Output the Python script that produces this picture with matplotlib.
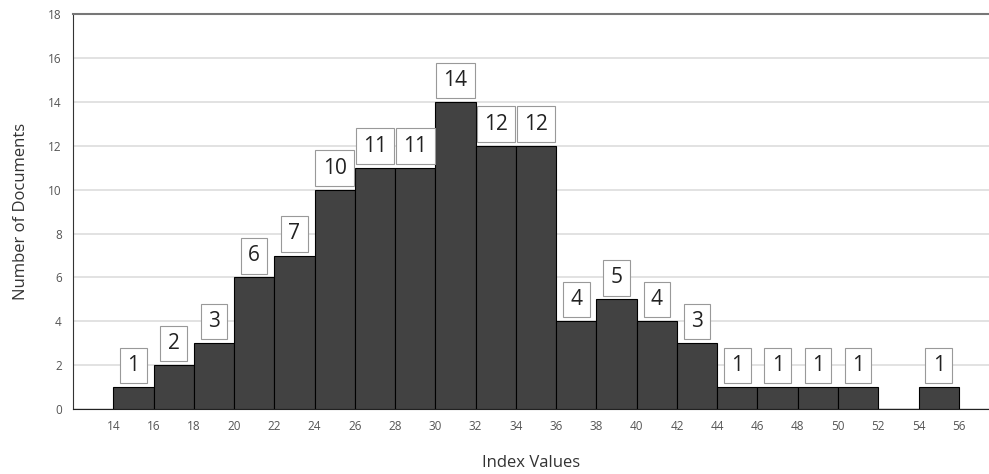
import numpy as np
import matplotlib
matplotlib.use('Agg')
import matplotlib.pyplot as plt

matplotlib.rc('font', family=['Open Sans', 'DejaVu Sans'])

bin_edges = [14, 16, 18, 20, 22, 24, 26, 28, 30, 32, 34, 36, 38, 40, 42, 44, 46, 48, 50, 52, 54, 56]
counts = [1, 2, 3, 6, 7, 10, 11, 11, 14, 12, 12, 4, 5, 4, 3, 1, 1, 1, 1, 0, 1]
y_ticks = [0, 2, 4, 6, 8, 10, 12, 14, 16, 18]

fig = plt.figure(figsize=(9.89, 4.74), dpi=100)
ax = fig.add_axes([0.0738, 0.137, 0.9262, 0.833])

lefts = np.array(bin_edges[:-1])
widths = np.diff(bin_edges)
ax.bar(lefts, counts, width=widths, align='edge', color='#424242',
       edgecolor='black', linewidth=0.8, zorder=3)

for x, w, c in zip(lefts, widths, counts):
    if c == 0:
        continue
    ax.annotate(str(c), (x + w / 2, c), xytext=(0, 8), textcoords='offset points',
                ha='center', va='bottom', fontsize=15, color='#222222', zorder=4,
                bbox=dict(boxstyle='square,pad=0.35', fc='white', ec='#999999', lw=0.8))

ax.set_xlim(12, 57.5)
ax.set_ylim(0, 18)
ax.set_xticks(bin_edges)
ax.set_yticks(y_ticks)
ax.tick_params(axis='both', length=0, labelsize=8.5, labelcolor='#555555')
ax.tick_params(axis='x', pad=8)
ax.tick_params(axis='y', pad=8)
ax.yaxis.grid(True, color='#dddddd', lw=1.2, zorder=0)
ax.set_axisbelow(True)

ax.spines['right'].set_visible(False)
ax.spines['top'].set_color('#777777')
ax.spines['top'].set_linewidth(1.5)
ax.spines['left'].set_color('#333333')
ax.spines['bottom'].set_color('#222222')

ax.set_xlabel('Index Values', fontsize=12, color='#333333', labelpad=16)
ax.set_ylabel('Number of Documents', fontsize=12, color='#333333', labelpad=14)

plt.savefig('out.png', dpi=100)
